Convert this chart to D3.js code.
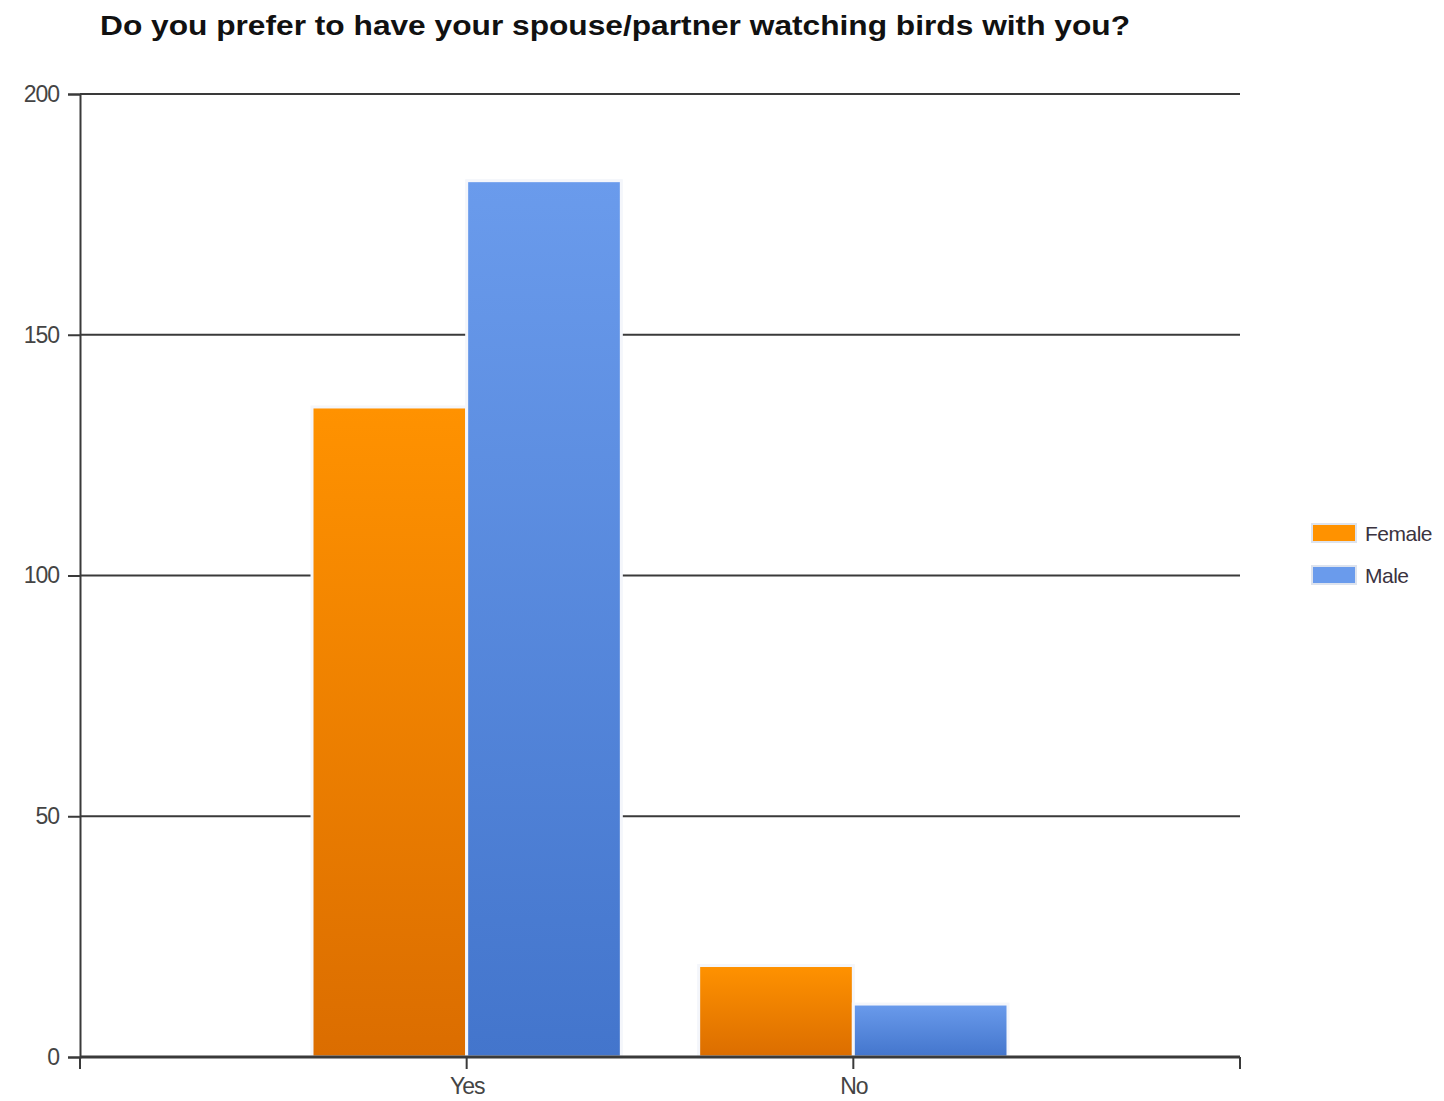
<!DOCTYPE html>
<html>
<head>
<meta charset="utf-8">
<script src="https://cdn.jsdelivr.net/npm/d3@7"></script>
<style>
  html, body { margin: 0; padding: 0; background: #fff; }
  svg text { font-family: "Liberation Sans", Arial, sans-serif; }
</style>
</head>
<body>
<svg id="chart" width="1444" height="1101"></svg>
<script>
// Survey answers split by respondent gender
const categories = ["Yes", "No"];
const seriesNames = ["Female", "Male"];
const femaleValues = [135, 19];
const maleValues = [182, 11];
const yTicks = [0, 50, 100, 150, 200];
const title = "Do you prefer to have your spouse/partner watching birds with you?";

const seriesValues = [femaleValues, maleValues];
const palette = {
  Female: { top: "#ff9200", bottom: "#db6d00" },
  Male:   { top: "#6a9bec", bottom: "#4375cc" }
};

const svg = d3.select("#chart");
const plotLeft = 80, plotRight = 1240, plotTop = 94, plotBottom = 1057;

const x = d3.scalePoint().domain(categories).range([plotLeft, plotRight]).padding(1);
const y = d3.scaleLinear().domain([0, 200]).range([plotBottom, plotTop]);
const inner = d3.scaleBand().domain(seriesNames).range([0, x.step() * 0.8]).padding(0);

// gradients for bars
const defs = svg.append("defs");
seriesNames.forEach(name => {
  const g = defs.append("linearGradient")
    .attr("id", "grad-" + name)
    .attr("x1", 0).attr("y1", 0).attr("x2", 0).attr("y2", 1);
  g.append("stop").attr("offset", "0%").attr("stop-color", palette[name].top);
  g.append("stop").attr("offset", "100%").attr("stop-color", palette[name].bottom);
});

// title
svg.append("text")
  .attr("x", 100).attr("y", 35)
  .attr("font-size", 28).attr("font-weight", "bold").attr("fill", "#111")
  .attr("textLength", 1030).attr("lengthAdjust", "spacingAndGlyphs")
  .text(title);

// horizontal grid lines
svg.append("g")
  .selectAll("line")
  .data(yTicks.filter(t => t > 0))
  .join("line")
  .attr("x1", plotLeft).attr("x2", plotRight)
  .attr("y1", d => y(d)).attr("y2", d => y(d))
  .attr("stroke", "#3a3a3a").attr("stroke-width", 2);

// y axis
const yAxis = svg.append("g")
  .attr("transform", `translate(${plotLeft},0)`)
  .call(d3.axisLeft(y).tickValues(yTicks).tickSize(12).tickPadding(9));
yAxis.select(".domain").attr("stroke", "#3a3a3a").attr("stroke-width", 2);
yAxis.selectAll(".tick line").attr("stroke", "#3a3a3a").attr("stroke-width", 2);
yAxis.selectAll(".tick text")
  .attr("font-size", 23).attr("fill", "#444").attr("letter-spacing", -1);

// bars
const groups = svg.append("g")
  .selectAll("g")
  .data(categories)
  .join("g")
  .attr("transform", c => `translate(${x(c) - x.step() * 0.4},0)`);

groups.selectAll("rect")
  .data((c, i) => seriesNames.map((s, k) => ({ series: s, value: seriesValues[k][i] })))
  .join("rect")
  .attr("x", d => inner(d.series))
  .attr("width", inner.bandwidth())
  .attr("y", d => y(d.value))
  .attr("height", d => y(0) - y(d.value))
  .attr("fill", d => `url(#grad-${d.series})`)
  .attr("stroke", "#f4f6fb").attr("stroke-width", 3);

// x axis
const xAxis = svg.append("g")
  .attr("transform", `translate(0,${plotBottom})`)
  .call(d3.axisBottom(x).tickSize(0).tickPadding(21));
xAxis.select(".domain").remove();
xAxis.selectAll(".tick text")
  .attr("font-size", 23).attr("fill", "#444").attr("letter-spacing", -1);

svg.append("line")
  .attr("x1", plotLeft).attr("x2", plotRight)
  .attr("y1", plotBottom).attr("y2", plotBottom)
  .attr("stroke", "#3a3a3a").attr("stroke-width", 3);

// x-axis tick marks at band edges
const edges = [plotLeft].concat(categories.map(c => x(c)), [plotRight]);
svg.append("g")
  .selectAll("line")
  .data(edges)
  .join("line")
  .attr("x1", d => d).attr("x2", d => d)
  .attr("y1", plotBottom).attr("y2", plotBottom + 12)
  .attr("stroke", "#3a3a3a").attr("stroke-width", 2);

// legend
const legend = svg.append("g").attr("transform", "translate(1312,524)");
const items = legend.selectAll("g")
  .data(seriesNames)
  .join("g")
  .attr("transform", (d, i) => `translate(0,${i * 42})`);
items.append("rect")
  .attr("width", 44).attr("height", 18)
  .attr("fill", d => palette[d].top)
  .attr("stroke", "#dde3ee").attr("stroke-width", 2);
items.append("text")
  .attr("x", 53).attr("y", 17)
  .attr("font-size", 21).attr("fill", "#3b3340").attr("letter-spacing", -0.5)
  .text(d => d);
</script>
</body>
</html>
